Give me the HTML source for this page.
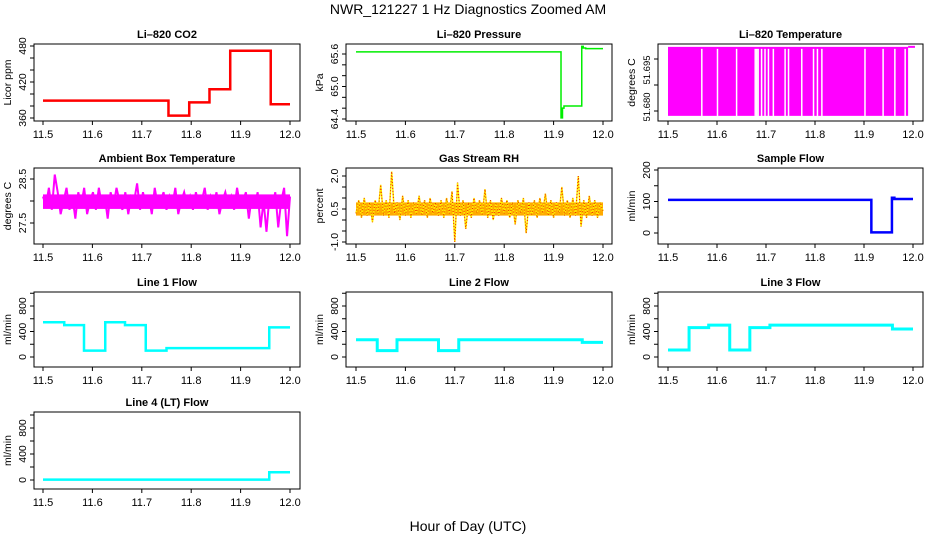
<!DOCTYPE html>
<html><head><meta charset="utf-8"><title>NWR_121227 1 Hz Diagnostics Zoomed AM</title>
<style>
body{margin:0;background:#fff;}
svg{display:block;font-family:"Liberation Sans",sans-serif;}
</style></head>
<body>
<svg id="chart" width="936" height="540" viewBox="0 0 936 540" xmlns="http://www.w3.org/2000/svg">
<text x="468" y="14" text-anchor="middle" font-size="14">NWR_121227  1 Hz Diagnostics Zoomed AM</text>
<text x="468" y="531" text-anchor="middle" font-size="14">Hour of Day (UTC)</text>
</svg>
<script>
// ---- data ----
const xTickLabels = ["11.5","11.6","11.7","11.8","11.9","12.0"];
const xTicks = [11.5,11.6,11.7,11.8,11.9,12.0];
const co2Times = [11.5,11.754,11.796,11.837,11.879,11.961,12.0];
const co2Values = [389,364,386,408,472,383];
const presTimes = [11.5,11.915,11.918,11.921,11.957,11.960,11.965,12.0];
const presValues = [65.64,64.42,64.60,64.64,65.74,65.71,65.70];
const tempGaps = [11.569,11.601,11.640,11.678,11.681,11.684,11.691,11.698,11.705,11.715,11.739,11.746,11.773,11.797,11.805,11.814,11.902,11.939,11.963,11.984];
const tempHigh = 51.6985;
const tempLow = 51.6786;
const ambientValues = [28.1,27.9,28.3,27.8,28.6,28.2,27.7,28.0,28.3,27.8,28.1,27.6,28.2,27.9,28.3,27.7,28.0,28.2,27.8,28.3,27.9,28.1,27.6,28.2,27.9,28.3,28.0,27.8,28.2,27.7,28.1,28.0,28.4,27.8,28.2,27.9,28.1,27.7,28.3,27.9,28.0,28.2,27.8,28.1,27.9,28.3,27.7,28.0,28.2,27.9,28.1,27.8,28.2,27.9,28.0,28.3,27.8,28.1,27.9,28.2,27.7,28.0,28.2,27.9,28.1,27.8,28.3,27.9,28.0,28.2,27.6,28.1,27.9,28.2,27.4,28.0,27.3,28.1,27.9,28.2,27.4,28.0,28.3,27.2,28.1];
const rhValues = [0.3,0.9,0.1,1.0,0.2,0.8,-0.1,0.9,0.3,1.6,0.2,0.9,0.1,2.2,0.3,0.8,0.0,1.1,0.2,0.9,0.1,0.8,0.3,1.1,0.2,0.9,0.1,1.0,0.3,0.8,0.2,0.9,0.1,1.0,0.3,1.3,-1.0,1.7,0.2,0.9,-0.4,0.8,0.1,1.0,0.3,0.9,0.2,1.4,0.1,0.9,0.0,0.8,0.2,1.0,0.3,0.9,0.1,0.8,-0.2,0.9,0.3,1.0,-0.6,0.8,0.2,0.9,0.1,1.0,0.3,1.2,0.2,0.9,0.1,0.8,0.3,1.5,0.2,0.9,0.1,1.0,0.2,2.0,-0.3,0.9,0.1,1.1,0.2,0.9,0.1,0.8,0.4];
const sampleTimes = [11.5,11.915,11.957,11.962,12.0];
const sampleValues = [105,2,112,108];
const line1Times = [11.5,11.543,11.583,11.626,11.666,11.708,11.75,11.958,12.0];
const line1Values = [545,500,100,545,500,100,140,465];
const line2Times = [11.5,11.543,11.583,11.667,11.708,11.958,12.0];
const line2Values = [270,100,270,100,270,230];
const line3Times = [11.5,11.543,11.583,11.626,11.667,11.708,11.958,12.0];
const line3Values = [110,460,500,110,460,500,440];
const line4Times = [11.5,11.958,12.0];
const line4Values = [5,120];

// ---- layout ----
const NS="http://www.w3.org/2000/svg";
const svg=document.getElementById('chart');
const cols=[{l:34,r:300,x0:43,x1:290},{l:346,r:612,x0:356,x1:603},{l:658,r:923,x0:668,x1:913}];
const rows=[{t:44,b:121},{t:168,b:244},{t:292,b:367},{t:412,b:489}];
function mk(tag,attrs,parent){const e=document.createElementNS(NS,tag);for(const k in attrs)e.setAttribute(k,attrs[k]);(parent||svg).appendChild(e);return e;}

function panel(ci,ri,title,ylab,v0,p0,v1,p1,ticks,labels,key,lfs){
  const c=cols[ci],r=rows[ri];
  const g=mk('g',{});
  
  
  const X=t=>c.x0+(t-11.5)/0.5*(c.x1-c.x0);
  const Y=v=>p0+(v-v0)/(v1-v0)*(p1-p0);
  const box=mk('rect',{x:c.l,y:r.t,width:c.r-c.l,height:r.b-r.t,fill:'none',stroke:'#000','stroke-width':1},g);
  
  
  const tt=mk('text',{x:(c.l+c.r)/2,y:r.t-6,'text-anchor':'middle','font-size':11,'font-weight':'bold'},g);
  tt.textContent=title;
  
  
  const xa=mk('g',{},g);
  
  
  mk('line',{x1:X(11.5),x2:X(12),y1:r.b,y2:r.b,stroke:'#000'},xa);
  xTicks.forEach((t,i)=>{mk('line',{x1:X(t),x2:X(t),y1:r.b,y2:r.b+4,stroke:'#000'},xa);
    const tx=mk('text',{x:X(t),y:r.b+17,'text-anchor':'middle','font-size':11},xa);tx.textContent=xTickLabels[i];});
  const ya=mk('g',{},g);
  
  
  mk('line',{x1:c.l,x2:c.l,y1:Y(ticks[0]),y2:Y(ticks[ticks.length-1]),stroke:'#000'},ya);
  ticks.forEach(v=>mk('line',{x1:c.l-4,x2:c.l,y1:Y(v),y2:Y(v),stroke:'#000'},ya));
  labels.forEach(l=>{const yy=l.py!==undefined?l.py:Y(l.v);const tx=mk('text',{x:0,y:0,'text-anchor':'middle','font-size':lfs||10.5,transform:`translate(${c.l-8},${yy}) rotate(-90)`},ya);tx.textContent=l.t;});
  const yt=mk('text',{x:0,y:0,'text-anchor':'middle','font-size':10.5,transform:`translate(${c.l-23},${(r.t+r.b)/2}) rotate(-90)`},g);
  yt.textContent=ylab;
  
  
  return {g,X,Y};
}
function stepLine(p,times,vals,color,w,key){
  let d='';
  for(let i=0;i<vals.length;i++){
    const x0=p.X(times[i]),x1=p.X(times[i+1]),y=p.Y(vals[i]);
    d+=(i===0?'M':'L')+x0+','+y+' L'+x1+','+y+' ';
  }
  const path=mk('path',{d:d,fill:'none',stroke:color,'stroke-width':w},p.g);
  
  
}
function noisyLine(p,vals,color,w,key,dash){
  const n=vals.length;
  const pts=vals.map((v,i)=>p.X(11.5+0.5*i/(n-1))+','+p.Y(v)).join(' ');
  const pl=mk('polyline',{points:pts,fill:'none',stroke:color,'stroke-width':w},p.g);
  if(dash)pl.setAttribute('stroke-dasharray',dash);
  
  
}

let p=panel(0,0,'Li–820 CO2','Licor ppm',360,118,480,46,[360,380,400,420,440,460,480],[{v:360,t:'360'},{v:420,t:'420'},{v:480,t:'480'}],'co2');
stepLine(p,co2Times,co2Values,'#ff0000',2.5,'co2');
p=panel(1,0,'Li–820 Pressure','kPa',64.4,119,65.6,54,[64.4,64.6,64.8,65.0,65.2,65.4,65.6],[{v:64.4,t:'64.4'},{v:65.0,t:'65.0'},{v:65.6,t:'65.6'}],'pressure');
stepLine(p,presTimes,presValues,'#00ee00',1.5,'pressure');
p=panel(2,0,'Li–820 Temperature','degrees C',51.680,111,51.695,59,[51.680,51.6875,51.695],[{py:107,t:'51.680'},{py:70,t:'51.695'}],'temperature',9.5);
{
  const fill=mk('rect',{x:p.X(11.5),y:p.Y(tempHigh),width:p.X(11.99)-p.X(11.5),height:p.Y(tempLow)-p.Y(tempHigh),fill:'#ff00ff'},p.g);
  
  
  mk('line',{x1:p.X(11.99),x2:p.X(12.004),y1:p.Y(tempHigh),y2:p.Y(tempHigh),stroke:'#ff00ff','stroke-width':2},p.g);
  tempGaps.forEach(t=>{const gl=mk('line',{x1:p.X(t),x2:p.X(t),y1:p.Y(tempHigh)+2,y2:p.Y(tempLow)+0.5,stroke:'#fff','stroke-width':1.5},p.g);
    
    });
}
p=panel(0,1,'Ambient Box Temperature','degrees C',27.5,223,28.5,179,[27.5,28.0,28.5],[{v:27.5,t:'27.5'},{v:28.5,t:'28.5'}],'ambient');
{const band=mk('rect',{x:p.X(11.5),y:p.Y(28.15),width:p.X(12)-p.X(11.5),height:p.Y(27.82)-p.Y(28.15),fill:'#ff00ff'},p.g);
 
 }
noisyLine(p,ambientValues,'#ff00ff',2,'ambient');
p=panel(1,1,'Gas Stream RH','percent',-1.0,242,2.0,176,[-1.0,-0.5,0,0.5,1.0,1.5,2.0],[{v:-1.0,t:'-1.0'},{v:0.5,t:'0.5'},{v:2.0,t:'2.0'}],'rh');
{const band=mk('rect',{x:p.X(11.5),y:p.Y(0.8),width:p.X(12)-p.X(11.5),height:p.Y(0.2)-p.Y(0.8),fill:'#ffaa00'},p.g);
 
 }
noisyLine(p,rhValues,'#ffee00',1.5,'rh');
noisyLine(p,rhValues,'#ee2200',1,'rh-dots','1,2');
p=panel(2,1,'Sample Flow','ml/min',0,233,200,170,[0,50,100,150,200],[{v:0,t:'0'},{v:100,t:'100'},{v:200,t:'200'}],'sample-flow');
stepLine(p,sampleTimes,sampleValues,'#0000ff',2.5,'sample-flow');
const fl=[{v:0,t:'0'},{v:400,t:'400'},{v:800,t:'800'}];
const ft=[0,200,400,600,800,1000];
p=panel(0,2,'Line 1 Flow','ml/min',0,357,800,306,ft,fl,'line1-flow');
stepLine(p,line1Times,line1Values,'#00ffff',2.5,'line1-flow');
p=panel(1,2,'Line 2 Flow','ml/min',0,357,800,306,ft,fl,'line2-flow');
stepLine(p,line2Times,line2Values,'#00ffff',3,'line2-flow');
p=panel(2,2,'Line 3 Flow','ml/min',0,357,800,306,ft,fl,'line3-flow');
stepLine(p,line3Times,line3Values,'#00ffff',3,'line3-flow');
p=panel(0,3,'Line 4 (LT) Flow','ml/min',0,480,800,428,ft,fl,'line4-flow');
stepLine(p,line4Times,line4Values,'#00ffff',2.5,'line4-flow');
</script>
</body></html>
